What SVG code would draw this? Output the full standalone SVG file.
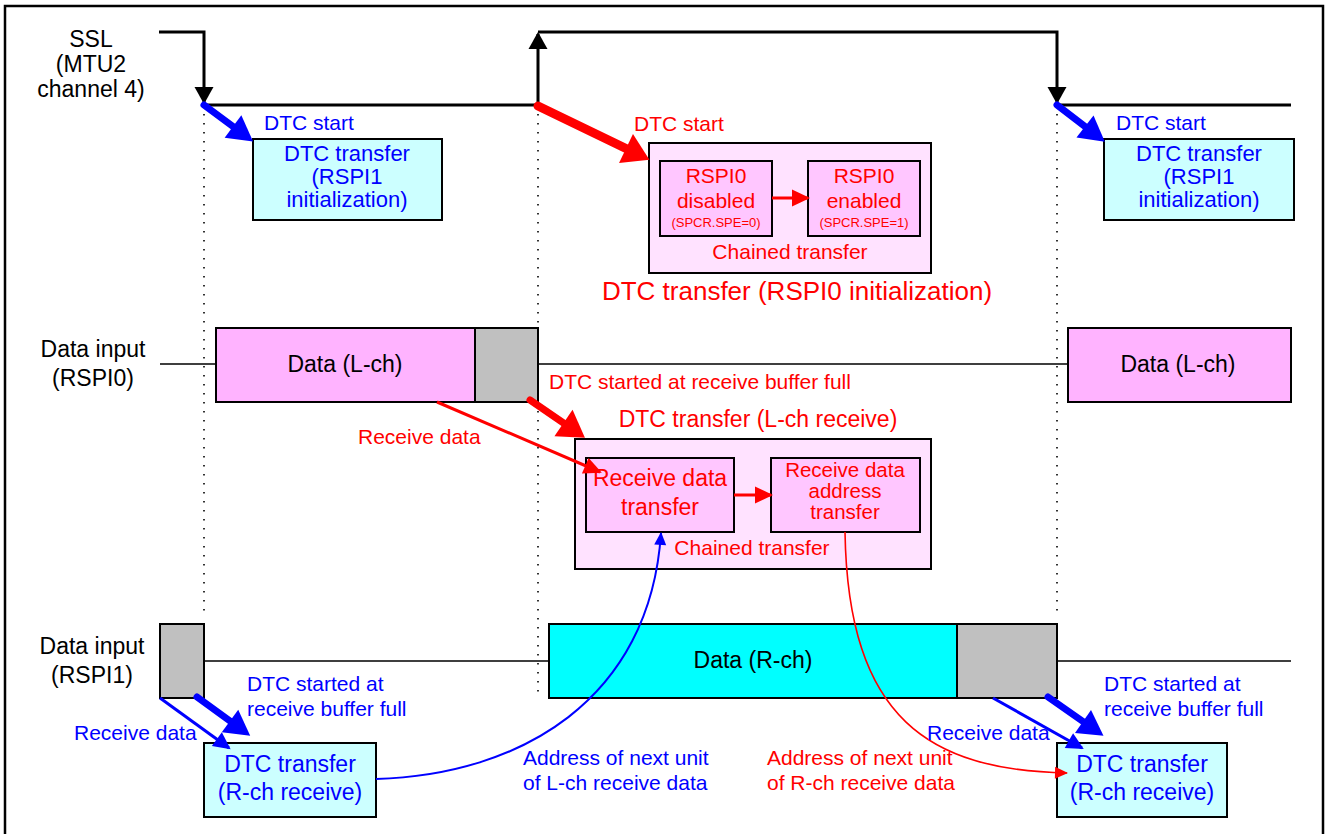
<svg xmlns="http://www.w3.org/2000/svg" width="1328" height="834" viewBox="0 0 1328 834">
<style>
text{font-family:"Liberation Sans",Arial,sans-serif}
.k{fill:#000}.b{fill:#0000FF}.r{fill:#FF0000}
.lbl{font-size:23px;text-anchor:middle}
.t21{font-size:21px}
.t23{font-size:23px;text-anchor:middle}
.t22{font-size:22px;text-anchor:middle}
.box{stroke:#000;stroke-width:2}
.dot{stroke:#000;stroke-width:1.6;stroke-dasharray:1.6 7.4;fill:none}
.sig{stroke:#000;stroke-width:3;fill:none}
.dl{stroke:#000;stroke-width:1.6;fill:none}
</style>
<defs>
<marker id="aK" markerUnits="userSpaceOnUse" markerWidth="17" markerHeight="19" refX="15" refY="9.5" orient="auto" overflow="visible"><path d="M0,0 L17,9.5 L0,19 z" fill="#000"/></marker>
<marker id="aBT" markerUnits="userSpaceOnUse" markerWidth="25" markerHeight="28" refX="0" refY="14" orient="auto" overflow="visible"><path d="M0,0 L25,14 L0,28 z" fill="#0000FF"/></marker>
<marker id="aRT" markerUnits="userSpaceOnUse" markerWidth="26" markerHeight="32" refX="0" refY="16" orient="auto" overflow="visible"><path d="M0,0 L26,16 L0,32 z" fill="#FF0000"/></marker>
<marker id="aB" markerUnits="userSpaceOnUse" markerWidth="17" markerHeight="17" refX="15" refY="8.5" orient="auto" overflow="visible"><path d="M0,0 L17,8.5 L0,17 z" fill="#0000FF"/></marker>
<marker id="aR" markerUnits="userSpaceOnUse" markerWidth="18" markerHeight="17" refX="16" refY="8.5" orient="auto" overflow="visible"><path d="M0,0 L18,8.5 L0,17 z" fill="#FF0000"/></marker>
<marker id="aBs" markerUnits="userSpaceOnUse" markerWidth="13" markerHeight="12" refX="12" refY="6" orient="auto" overflow="visible"><path d="M0,0 L13,6 L0,12 z" fill="#0000FF"/></marker>
<marker id="aRs" markerUnits="userSpaceOnUse" markerWidth="13" markerHeight="12" refX="12" refY="6" orient="auto" overflow="visible"><path d="M0,0 L13,6 L0,12 z" fill="#FF0000"/></marker>
</defs>
<rect x="5" y="6" width="1318" height="840" fill="#fff" stroke="#000" stroke-width="2.5"/>

<g id="guides">
<line class="dot" x1="204" y1="114" x2="204" y2="618"/>
<line class="dot" x1="538" y1="114" x2="538" y2="692"/>
<line class="dot" x1="1057" y1="114" x2="1057" y2="618"/>
</g>

<g id="labels">
<text class="k lbl"><tspan x="91" y="47">SSL</tspan><tspan x="91" y="72">(MTU2</tspan><tspan x="91" y="97">channel 4)</tspan></text>
<text class="k lbl"><tspan x="93" y="357">Data input</tspan><tspan x="93" y="386">(RSPI0)</tspan></text>
<text class="k lbl"><tspan x="92" y="654">Data input</tspan><tspan x="92" y="683">(RSPI1)</tspan></text>
</g>

<g id="ssl-signal">
<path class="sig" d="M159,32 H204 V102" marker-end="url(#aK)"/>
<path class="sig" d="M204,105 H538 V34" marker-end="url(#aK)"/>
<path class="sig" d="M538,32 H1057 V102" marker-end="url(#aK)"/>
<path class="sig" d="M1057,105 H1291"/>
</g>

<g id="data-lines">
<path class="dl" d="M160,364 H216 M538,364 H1068"/>
<path class="dl" d="M204,661 H549 M1057,661 H1291"/>
</g>

<g id="rspi0-lch-1">
<rect class="box" x="216" y="328" width="259" height="74" fill="#FFB3FF"/>
<text class="k t23" x="345" y="372">Data (L-ch)</text>
</g>
<g id="rspi0-full">
<rect class="box" x="475" y="328" width="63" height="74" fill="#C0C0C0"/>
</g>
<g id="rspi0-lch-2">
<rect class="box" x="1068" y="328" width="223" height="74" fill="#FFB3FF"/>
<text class="k t23" x="1178" y="372">Data (L-ch)</text>
</g>

<g id="rspi1-full-1">
<rect class="box" x="160" y="624" width="44" height="74" fill="#C0C0C0"/>
</g>
<g id="rspi1-rch">
<rect class="box" x="549" y="624" width="408" height="74" fill="#00FFFF"/>
<text class="k t23" x="753" y="668">Data (R-ch)</text>
</g>
<g id="rspi1-full-2">
<rect class="box" x="957" y="624" width="100" height="74" fill="#C0C0C0"/>
</g>

<g id="dtc-rspi1-init-1">
<rect class="box" x="253" y="139" width="189" height="81" fill="#CCFFFF"/>
<text class="b t22"><tspan x="347" y="161">DTC transfer</tspan><tspan x="347" y="184">(RSPI1</tspan><tspan x="347" y="207">initialization)</tspan></text>
</g>
<g id="dtc-rspi1-init-2">
<rect class="box" x="1104" y="139" width="190" height="81" fill="#CCFFFF"/>
<text class="b t22"><tspan x="1199" y="161">DTC transfer</tspan><tspan x="1199" y="184">(RSPI1</tspan><tspan x="1199" y="207">initialization)</tspan></text>
</g>

<g id="dtc-rspi0-init">
<rect class="box" x="649" y="143" width="282" height="130" fill="#FFE2FF"/>
<rect class="box" x="660" y="161" width="112" height="75" fill="#FFC6FF"/>
<text class="r" font-size="21" text-anchor="middle"><tspan x="716" y="183">RSPI0</tspan><tspan x="716" y="208">disabled</tspan></text>
<text class="r" font-size="13" text-anchor="middle" x="716" y="227">(SPCR.SPE=0)</text>
<rect class="box" x="808" y="161" width="112" height="75" fill="#FFC6FF"/>
<text class="r" font-size="21" text-anchor="middle"><tspan x="864" y="183">RSPI0</tspan><tspan x="864" y="208">enabled</tspan></text>
<text class="r" font-size="13" text-anchor="middle" x="864" y="227">(SPCR.SPE=1)</text>
<text class="r t21" text-anchor="middle" x="790" y="259">Chained transfer</text>
<text class="r" font-size="26" text-anchor="middle" x="797" y="300">DTC transfer (RSPI0 initialization)</text>
</g>

<g id="dtc-lch-receive">
<text class="r t23" x="758" y="427">DTC transfer (L-ch receive)</text>
<rect class="box" x="575" y="439" width="356" height="130" fill="#FFE2FF"/>
<rect class="box" x="586" y="458" width="148" height="74" fill="#FFC6FF"/>
<text class="r t23"><tspan x="660" y="486">Receive data</tspan><tspan x="660" y="515">transfer</tspan></text>
<rect class="box" x="771" y="458" width="149" height="74" fill="#FFC6FF"/>
<text class="r" font-size="20.5" text-anchor="middle"><tspan x="845" y="477">Receive data</tspan><tspan x="845" y="498">address</tspan><tspan x="845" y="519">transfer</tspan></text>
<text class="r t21" text-anchor="middle" x="752" y="555">Chained transfer</text>
</g>

<g id="dtc-rch-receive-1">
<rect class="box" x="204" y="743" width="172" height="74" fill="#CCFFFF"/>
<text class="b t23"><tspan x="290" y="772">DTC transfer</tspan><tspan x="290" y="800">(R-ch receive)</tspan></text>
</g>
<g id="dtc-rch-receive-2">
<rect class="box" x="1057" y="743" width="170" height="74" fill="#CCFFFF"/>
<text class="b t23"><tspan x="1142" y="772">DTC transfer</tspan><tspan x="1142" y="800">(R-ch receive)</tspan></text>
</g>

<g id="connectors" fill="none">
<path d="M204,105 L233,126.5" stroke="#0000FF" stroke-width="7" stroke-linecap="round" marker-end="url(#aBT)"/>
<path d="M1057,105 L1085,126.5" stroke="#0000FF" stroke-width="7" stroke-linecap="round" marker-end="url(#aBT)"/>
<path d="M538,106 L626,148.5" stroke="#FF0000" stroke-width="9" stroke-linecap="round" marker-end="url(#aRT)"/>
<path d="M772,198 H808" stroke="#FF0000" stroke-width="3" marker-end="url(#aR)"/>
<path d="M530,400 L563.5,423" stroke="#FF0000" stroke-width="7" stroke-linecap="round" marker-end="url(#aRT)"/>
<path d="M437,402 L600,472" stroke="#FF0000" stroke-width="3" marker-end="url(#aR)"/>
<path d="M734,495 H771" stroke="#FF0000" stroke-width="3" marker-end="url(#aR)"/>
<path d="M197,697 L230,721" stroke="#0000FF" stroke-width="7" stroke-linecap="round" marker-end="url(#aBT)"/>
<path d="M1048,697 L1083,721.5" stroke="#0000FF" stroke-width="7" stroke-linecap="round" marker-end="url(#aBT)"/>
<path d="M160,698 L229,748" stroke="#0000FF" stroke-width="3" marker-end="url(#aB)"/>
<path d="M993,698 L1082,748" stroke="#0000FF" stroke-width="3" marker-end="url(#aB)"/>
<path d="M376,779 C520,775 650,700 661,533" stroke="#0000FF" stroke-width="2" marker-end="url(#aBs)"/>
<path d="M845,532 C848,720 930,770 1067,773" stroke="#FF0000" stroke-width="1.6" marker-end="url(#aRs)"/>
</g>

<g id="connector-labels">
<text class="b t21" x="264" y="130">DTC start</text>
<text class="b t21" x="1116" y="130">DTC start</text>
<text class="r t21" x="634" y="131">DTC start</text>
<text class="r t21" x="549" y="389">DTC started at receive buffer full</text>
<text class="r t21" x="358" y="444">Receive data</text>
<text class="b t21"><tspan x="247" y="691">DTC started at</tspan><tspan x="247" y="716">receive buffer full</tspan></text>
<text class="b t21" x="74" y="740">Receive data</text>
<text class="b t21"><tspan x="523" y="765">Address of next unit</tspan><tspan x="523" y="790">of L-ch receive data</tspan></text>
<text class="r t21"><tspan x="767" y="765">Address of next unit</tspan><tspan x="767" y="790">of R-ch receive data</tspan></text>
<text class="b t21" x="927" y="740">Receive data</text>
<text class="b t21"><tspan x="1104" y="691">DTC started at</tspan><tspan x="1104" y="716">receive buffer full</tspan></text>
</g>
</svg>
